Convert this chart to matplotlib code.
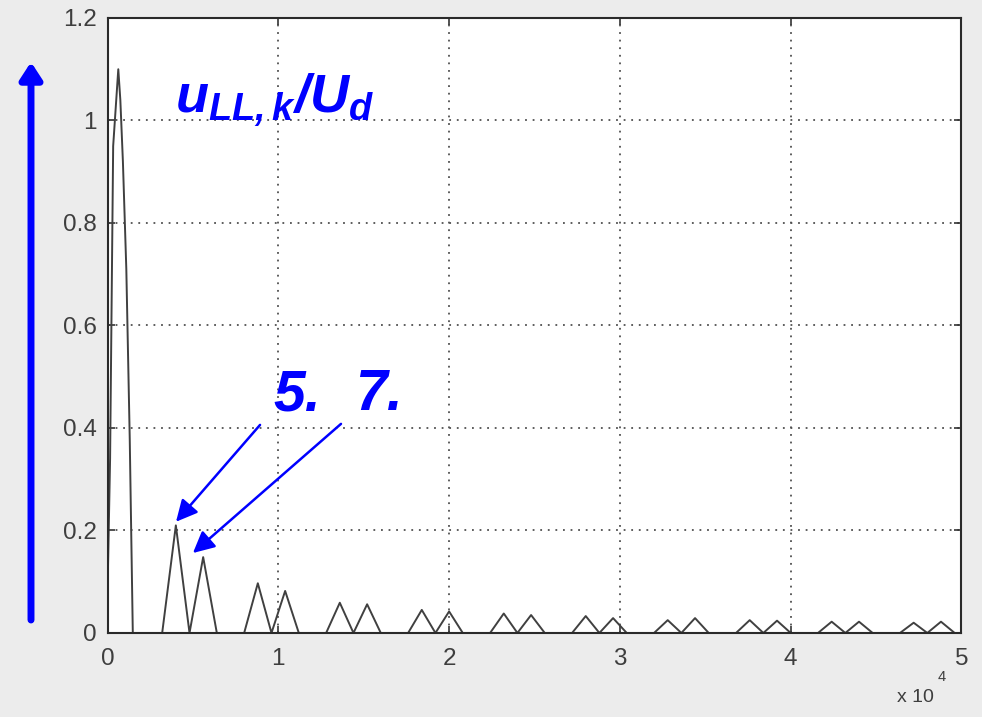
import numpy as np
import matplotlib
matplotlib.use("Agg")
import matplotlib.pyplot as plt
from matplotlib.patches import FancyArrowPatch, ArrowStyle

# Fundamental lobe of the line-to-line voltage spectrum (Hz, u_LL,k / U_d)
lobe_freq = [0, 150, 330, 630, 750, 900, 1100, 1300, 1480]
lobe_amp = [0.08, 0.34, 0.95, 1.10, 1.04, 0.92, 0.71, 0.38, 0.0]

# Harmonic lines on an 800 Hz frequency grid
bin_width = 800
last_bin = 62
harm_order = [5, 7, 11, 13, 17, 19, 23, 25, 29, 31, 35, 37, 41, 43, 47, 49, 53, 55, 59, 61]
harm_amp = [0.21, 0.148, 0.097, 0.082, 0.059, 0.056, 0.045, 0.042, 0.038, 0.035,
            0.033, 0.029, 0.025, 0.029, 0.025, 0.024, 0.022, 0.022, 0.020, 0.022]

x_ticks = [0, 1, 2, 3, 4, 5]
x_labels = ["0", "1", "2", "3", "4", "5"]
y_ticks = [0, 0.2, 0.4, 0.6, 0.8, 1.0, 1.2]
y_labels = ["0", "0.2", "0.4", "0.6", "0.8", "1", "1.2"]

plt.rcParams["font.family"] = ["Liberation Sans", "DejaVu Sans"]
plt.rcParams["mathtext.fontset"] = "custom"
plt.rcParams["mathtext.rm"] = "Liberation Sans:italic:bold"
plt.rcParams["mathtext.it"] = "Liberation Sans:italic:bold"
plt.rcParams["mathtext.bf"] = "Liberation Sans:italic:bold"

bins = np.arange(2, last_bin + 1)
bin_amp = np.zeros(len(bins))
for order, amp in zip(harm_order, harm_amp):
    bin_amp[order - 2] = amp
freq = np.concatenate([np.asarray(lobe_freq, float), bins * bin_width])
amp = np.concatenate([np.asarray(lobe_amp, float), bin_amp])
scale = 1e4

fig = plt.figure(figsize=(9.82, 7.17), dpi=100, facecolor="#ececec")
ax = fig.add_axes([0.1095, 0.1172, 0.9791 - 0.1095, 0.9749 - 0.1172])
ax.set_facecolor("white")

ax.plot(freq / scale, amp, color="#404040", lw=1.4, zorder=3)

ax.set_xlim(0, 5)
ax.set_ylim(0, 1.2)
ax.set_xticks(x_ticks)
ax.set_xticklabels(x_labels)
ax.set_yticks(y_ticks)
ax.set_yticklabels(y_labels)
ax.tick_params(direction="in", length=5, width=1.2, color="#333333",
               top=True, right=True, labelcolor="#3e3e3e")
ax.tick_params(axis="x", labelsize=17.5, pad=11)
ax.tick_params(axis="y", labelsize=17.5, pad=8)
ax.grid(True, color="#505050", lw=1.3, linestyle=(0, (1, 3.2)), zorder=1)
for sp in ax.spines.values():
    sp.set_color("#2a2a2a")
    sp.set_linewidth(1.5)
    sp.set_zorder(4)

# Axis exponent
fig.text(897 / 982, 1 - 702 / 717, "x 10", fontsize=14, color="#3e3e3e",
         ha="left", va="baseline")
fig.text(938 / 982, 1 - 681 / 717, "4", fontsize=10.5, color="#3e3e3e",
         ha="left", va="baseline")

blue = "#0000ff"

# Vertical quantity arrow to the left of the axis
fig.patches.append(FancyArrowPatch(
    (31 / 982, 1 - 620 / 717), (31 / 982, 1 - 62 / 717),
    transform=fig.transFigure, figure=fig,
    arrowstyle=ArrowStyle("-|>", head_length=10, head_width=6.5),
    mutation_scale=1, lw=5, color=blue, shrinkA=0, shrinkB=0))

fig.text(175 / 982, 1 - 113 / 717, r"$u_{LL,k}/U_d$", fontsize=39,
         color=blue, ha="left", va="baseline")

# Harmonic order labels with pointers
fig.text(273 / 982, 1 - 410 / 717, "5.", fontsize=41, color=blue,
         fontweight="bold", fontstyle="italic", ha="left", va="baseline")
fig.text(355 / 982, 1 - 410 / 717, "7.", fontsize=41, color=blue,
         fontweight="bold", fontstyle="italic", ha="left", va="baseline")

for tail, tip in [((0.893, 0.406), (0.401, 0.217)),
                  ((1.367, 0.408), (0.500, 0.156))]:
    ax.add_patch(FancyArrowPatch(
        tail, tip, transform=ax.transData,
        arrowstyle=ArrowStyle("-|>", head_length=13, head_width=6.5),
        mutation_scale=1, lw=1.8, color=blue, shrinkA=0, shrinkB=0,
        zorder=6, clip_on=False))

fig.savefig("out.png", dpi=100, facecolor=fig.get_facecolor())
